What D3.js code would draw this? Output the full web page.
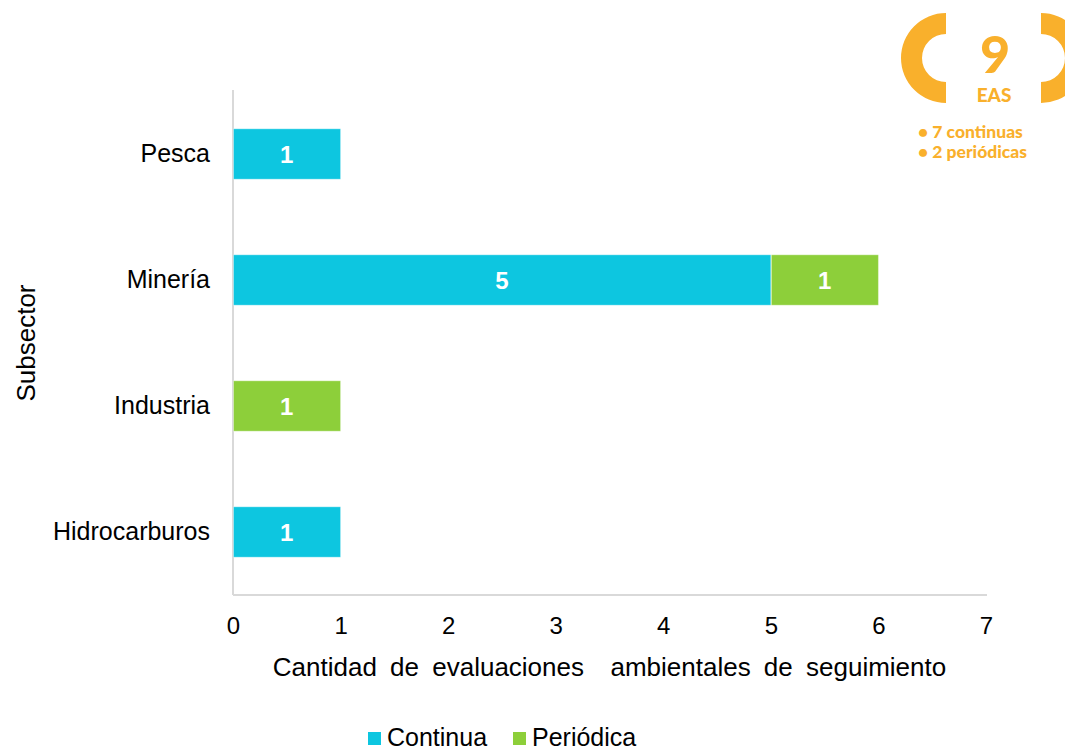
<!DOCTYPE html>
<html lang="es">
<head>
    <meta charset="UTF-8">
    <title>Subsector EAS</title>
    <style>
        body {
            margin: 0;
            background-color: #ffffff;
        }
        svg {
            display: block;
            font-family: Arial, "Liberation Sans", sans-serif;
        }
        .axis text {
            fill: #000000;
        }
        .axis path {
            stroke: #d9d9d9;
            stroke-width: 2;
        }
        .badge text {
            fill: #f9b02c;
            font-family: Lato, "Open Sans", sans-serif;
            font-weight: 900;
        }
    </style>
</head>
<body>
    <script src="https://d3js.org/d3.v7.min.js"></script>
    <script>
        const width = 1065;
        const height = 750;

        const subsectors = ["Pesca", "Minería", "Industria", "Hidrocarburos"];
        const continua = [1, 5, 0, 1];
        const periodica = [0, 1, 1, 0];
        const xTicks = [0, 1, 2, 3, 4, 5, 6, 7];
        const seriesNames = ["Continua", "Periódica"];
        const seriesColors = ["#0dc6e0", "#8dcf3a"];
        const badgeLines = ["• 7 continuas", "• 2 periódicas"];

        const margin = { top: 91, left: 233, right: 79, bottom: 155 };

        const svg = d3.select("body")
            .append("svg")
            .attr("width", width)
            .attr("height", height);

        const x = d3.scaleLinear()
            .domain([0, 7])
            .range([margin.left, width - margin.right]);

        const y = d3.scaleBand()
            .domain(subsectors)
            .range([margin.top, height - margin.bottom])
            .paddingInner(0.6)
            .paddingOuter(0.3);

        const rows = subsectors.map((s, i) => ({ subsector: s, Continua: continua[i], "Periódica": periodica[i] }));
        const stacked = d3.stack().keys(seriesNames)(rows);

        // axes
        svg.append("g")
            .attr("class", "axis")
            .attr("transform", `translate(0,${height - margin.bottom})`)
            .call(d3.axisBottom(x).tickValues(xTicks).tickSize(0).tickPadding(22).tickFormat(d3.format("d")))
            .call(g => g.selectAll("text").style("font-size", "24px"))
            .call(g => g.select(".domain").attr("d", `M${x(0)},0H${x(7) + 1}`));

        svg.append("g")
            .attr("class", "axis")
            .attr("transform", `translate(${margin.left},0)`)
            .call(d3.axisLeft(y).tickSize(0).tickPadding(23))
            .call(g => g.selectAll("text").style("font-size", "25px"))
            .call(g => g.select(".domain").attr("d", `M0,${margin.top - 1}V${height - margin.bottom}`));

        // bars
        const layer = svg.selectAll(".layer")
            .data(stacked)
            .enter()
            .append("g")
            .attr("class", "layer")
            .attr("fill", (d, i) => seriesColors[i]);

        layer.selectAll("rect")
            .data(d => d.map(v => ({ v, key: d.key })).filter(e => e.v[1] - e.v[0] > 0))
            .enter()
            .append("rect")
            .attr("x", d => x(d.v[0]) + 0.5)
            .attr("y", d => y(d.v.data.subsector))
            .attr("width", d => x(d.v[1]) - x(d.v[0]) - 0.5)
            .attr("height", y.bandwidth())
            .attr("stroke", "#ffffff")
            .attr("stroke-opacity", 0.35)
            .attr("stroke-width", 1);

        layer.selectAll("text")
            .data(d => d.map(v => ({ v, key: d.key })).filter(e => e.v[1] - e.v[0] > 0))
            .enter()
            .append("text")
            .attr("x", d => (x(d.v[0]) + x(d.v[1])) / 2)
            .attr("y", d => y(d.v.data.subsector) + y.bandwidth() / 2)
            .attr("dy", "0.36em")
            .attr("text-anchor", "middle")
            .attr("fill", "#ffffff")
            .style("font-size", "24px")
            .style("font-weight", "bold")
            .text(d => d.v[1] - d.v[0]);

        // axis titles
        svg.append("text")
            .attr("x", (x(0) + x(7)) / 2)
            .attr("y", 676)
            .attr("text-anchor", "middle")
            .attr("word-spacing", "6px")
            .style("font-size", "26px")
            .style("white-space", "pre")
            .text("Cantidad de evaluaciones  ambientales de seguimiento");

        svg.append("text")
            .attr("transform", `translate(35,${(y.range()[0] + y.range()[1]) / 2}) rotate(-90)`)
            .attr("text-anchor", "middle")
            .style("font-size", "26px")
            .text("Subsector");

        // legend
        const legendX = [368, 513];
        const legend = svg.selectAll(".legend")
            .data(seriesNames)
            .enter()
            .append("g")
            .attr("class", "legend")
            .attr("transform", (d, i) => `translate(${legendX[i]},0)`);

        legend.append("rect")
            .attr("x", 0)
            .attr("y", 732)
            .attr("width", 13)
            .attr("height", 13)
            .attr("fill", (d, i) => seriesColors[i]);

        legend.append("text")
            .attr("x", 19)
            .attr("y", 746)
            .style("font-size", "25px")
            .text(d => d);

        // badge
        const badge = svg.append("g").attr("class", "badge");
        const ring = d3.arc().innerRadius(24).outerRadius(45);

        badge.append("path")
            .attr("transform", "translate(946,58)")
            .attr("fill", "#f9b02c")
            .attr("d", ring({ startAngle: Math.PI, endAngle: 2 * Math.PI }));

        badge.append("path")
            .attr("transform", "translate(1041,58)")
            .attr("fill", "#f9b02c")
            .attr("d", ring({ startAngle: 0, endAngle: Math.PI }));

        badge.append("text")
            .attr("x", 995)
            .attr("y", 73)
            .attr("text-anchor", "middle")
            .style("font-size", "52px")
            .text("9");

        badge.append("text")
            .attr("x", 994)
            .attr("y", 102)
            .attr("text-anchor", "middle")
            .style("font-size", "19px")
            .text("EAS");

        badge.selectAll(".line")
            .data(badgeLines)
            .enter()
            .append("text")
            .attr("class", "line")
            .attr("x", 918)
            .attr("y", (d, i) => 138 + i * 19.5)
            .style("font-size", "17.5px")
            .text(d => d);
    </script>
</body>
</html>
